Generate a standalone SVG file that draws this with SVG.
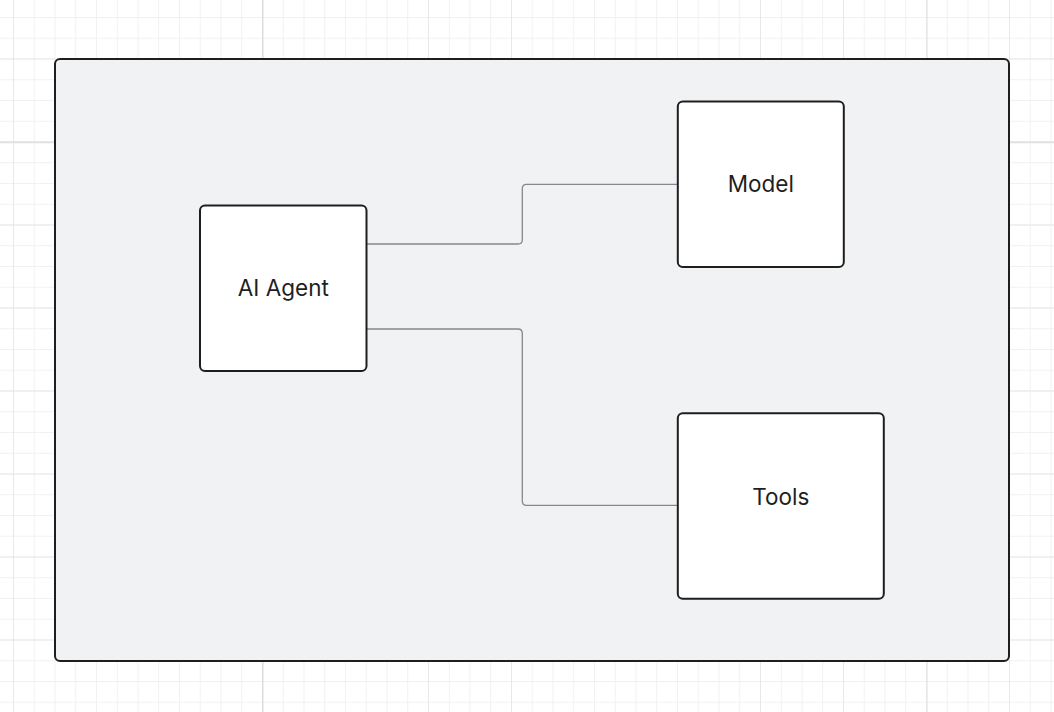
<svg xmlns="http://www.w3.org/2000/svg" width="1054" height="712" viewBox="0 0 1054 712">
  <defs>
    <pattern id="minor" x="13" y="17" width="20.75" height="20.75" patternUnits="userSpaceOnUse">
      <path d="M0.5 0 V20.75 M0 0.5 H20.75" fill="none" stroke="#f1f1f1" stroke-width="1"/>
    </pattern>
    <pattern id="medium" x="13" y="58.5" width="83" height="83" patternUnits="userSpaceOnUse">
      <path d="M0.5 0 V83 M0 0.5 H83" fill="none" stroke="#e8e8e8" stroke-width="1"/>
    </pattern>
    <pattern id="major" x="262" y="141.5" width="664" height="664" patternUnits="userSpaceOnUse">
      <path d="M0.75 0 V664 M0 0.75 H664" fill="none" stroke="#dedede" stroke-width="1.5"/>
    </pattern>
    <style>
      .node { fill: #ffffff; stroke: #1e1e1e; stroke-width: 2; }
      .label { font-family: Inter, "Liberation Sans", sans-serif; font-size: 22.5px; fill: #1f1f1f; text-anchor: middle; }
      .edge { fill: none; stroke: #86888d; stroke-width: 1.3; }
    </style>
  </defs>
  <rect width="1054" height="712" fill="#ffffff"/>
  <rect width="1054" height="712" fill="url(#minor)"/>
  <rect width="1054" height="712" fill="url(#medium)"/>
  <rect width="1054" height="712" fill="url(#major)"/>

  <g id="container">
    <rect x="55" y="59" width="954" height="602" rx="5" fill="#f1f2f4" stroke="#1e1e1e" stroke-width="2"/>
  </g>

  <g id="connectors">
    <path class="edge" d="M366.5 244 H518 Q522.3 244 522.3 240 V188.5 Q522.3 184.3 526.5 184.3 H677.5"/>
    <path class="edge" d="M366.5 329 H518 Q522.3 329 522.3 333.5 V501 Q522.3 505.3 526.5 505.3 H677.5"/>
  </g>

  <g id="agent">
    <rect class="node" x="200" y="205.5" width="166.5" height="165.5" rx="5"/>
    <text class="label" x="283.3" y="296">AI Agent</text>
  </g>

  <g id="model">
    <rect class="node" x="677.8" y="101.5" width="166" height="165.5" rx="5"/>
    <text class="label" x="760.8" y="192">Model</text>
  </g>

  <g id="tools">
    <rect class="node" x="677.8" y="413.2" width="206" height="185.5" rx="5"/>
    <text class="label" x="780.8" y="505">Tools</text>
  </g>
</svg>
